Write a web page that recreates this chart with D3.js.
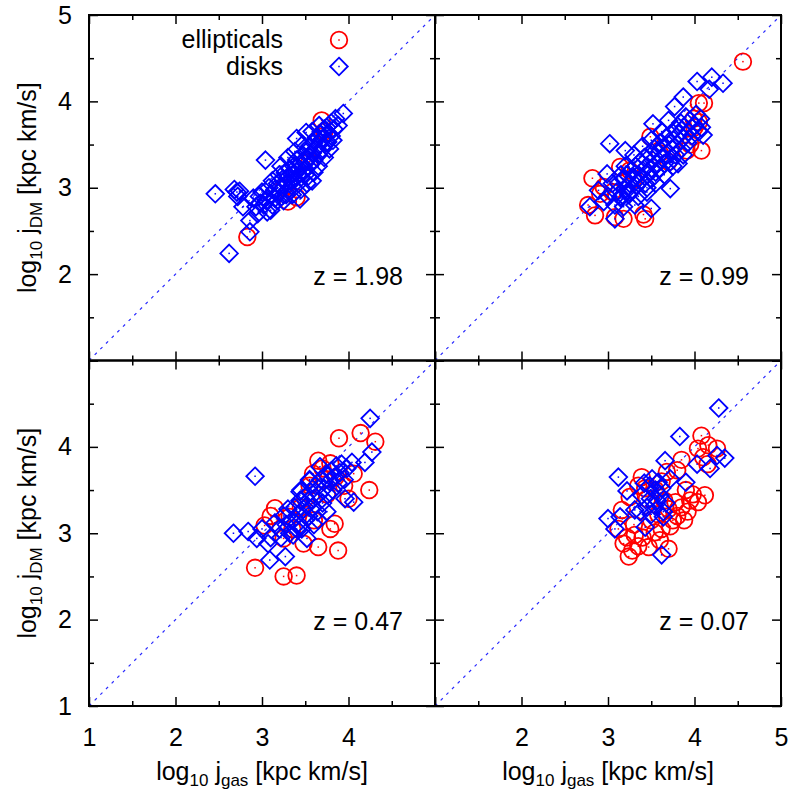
<!DOCTYPE html>
<html>
<head>
<meta charset="utf-8">
<script src="https://cdn.jsdelivr.net/npm/d3@7"></script>
<style>
  body { margin: 0; background: #fff; }
  text { font-family: "Liberation Sans", Arial, Helvetica, sans-serif; fill: #000; }
</style>
</head>
<body>
<svg id="chart" width="789" height="794"></svg>
<script>
/* Data: [log10 j_gas, log10 j_DM] */
var redshifts = ["1.98", "0.99", "0.47", "0.07"];

var ellipticalsZ198 = [
  [2.83, 2.43], [3.30, 2.84], [3.40, 2.89], [3.69, 3.78], [3.55, 3.30], [3.72, 3.65], [3.25, 3.00]
];
var disksZ198 = [
  [2.46, 2.93], [2.62, 2.24], [3.04, 3.32], [3.94, 3.86], [2.86, 2.49], [2.86, 2.62], [2.71, 2.95],
  [2.68, 2.98], [2.74, 2.96], [2.72, 2.90], [2.78, 2.78], [3.40, 3.57], [3.51, 3.64], [3.53, 3.13],
  [3.44, 2.87], [3.10, 2.74], [3.76, 3.53], [2.95, 2.70], [2.90, 2.88], [2.98, 2.82],
  [3.00, 2.95], [3.05, 2.85], [3.08, 3.00], [3.10, 2.92], [3.12, 3.08], [3.15, 2.98], [3.15, 2.88],
  [3.18, 3.05], [3.20, 3.15], [3.20, 2.95], [3.22, 3.02], [3.24, 3.10], [3.25, 2.92], [3.27, 3.18],
  [3.28, 3.05], [3.30, 3.12], [3.30, 2.98], [3.32, 3.22], [3.33, 3.08], [3.35, 3.15], [3.35, 3.02],
  [3.37, 3.25], [3.38, 3.10], [3.40, 3.18], [3.40, 3.32], [3.42, 3.05], [3.43, 3.22], [3.45, 3.28],
  [3.45, 3.12], [3.47, 3.38], [3.48, 3.20], [3.50, 3.30], [3.50, 3.15], [3.52, 3.42], [3.53, 3.25],
  [3.55, 3.35], [3.55, 3.48], [3.57, 3.28], [3.58, 3.40], [3.60, 3.52], [3.60, 3.32], [3.62, 3.45],
  [3.63, 3.58], [3.65, 3.38], [3.66, 3.50], [3.68, 3.62], [3.70, 3.45], [3.70, 3.56], [3.72, 3.68],
  [3.74, 3.52], [3.75, 3.62], [3.77, 3.72], [3.80, 3.60], [3.80, 3.75], [3.83, 3.68], [3.85, 3.80],
  [3.88, 3.72], [2.93, 2.78], [2.97, 2.90], [3.02, 2.80], [3.06, 2.72], [3.12, 2.80], [3.18, 2.85],
  [3.25, 2.85], [3.28, 2.92], [3.35, 2.92], [3.22, 3.25], [3.30, 3.35], [3.38, 3.42], [3.47, 3.50],
  [3.58, 3.65], [3.66, 3.72], [3.52, 3.05], [3.60, 3.18], [3.65, 3.25], [3.72, 3.35], [3.78, 3.45],
  [3.45, 2.98], [3.58, 3.08], [3.82, 3.55]
];

var ellipticalsZ099 = [
  [4.56, 4.46], [4.05, 3.98], [4.11, 3.98], [4.08, 3.43], [3.99, 3.80], [4.05, 3.76], [2.82, 3.11],
  [2.77, 2.80], [2.85, 2.68], [3.18, 2.64], [3.08, 2.66], [3.43, 2.64], [3.41, 2.69], [2.95, 3.01],
  [3.14, 3.24], [3.49, 3.59], [4.00, 3.70], [3.91, 3.43], [3.30, 3.10], [3.60, 3.40], [3.70, 3.30],
  [3.05, 2.95], [3.25, 3.20], [3.95, 3.50], [2.91, 2.93]
];
var disksZ099 = [
  [4.03, 4.23], [4.20, 4.28], [4.33, 4.21], [4.17, 4.14], [3.87, 4.05], [3.77, 3.94], [3.52, 3.74],
  [3.02, 3.51], [3.20, 3.43], [2.79, 2.78], [3.08, 2.64], [3.50, 2.76], [3.31, 2.80], [2.95, 2.84],
  [3.72, 2.99], [3.45, 2.95], [3.87, 3.38], [2.99, 3.16], [2.89, 2.97], [4.08, 3.70], [4.10, 3.61],
  [3.81, 3.28], [3.00, 2.90], [3.15, 2.88], [3.25, 2.95],
  [3.10, 2.95], [3.12, 3.05], [3.15, 2.90], [3.18, 3.10], [3.20, 2.98], [3.22, 3.15], [3.24, 2.92],
  [3.25, 3.05], [3.27, 3.20], [3.28, 2.98], [3.30, 3.12], [3.32, 3.25], [3.33, 3.02], [3.35, 3.15],
  [3.37, 3.30], [3.38, 3.08], [3.40, 3.20], [3.42, 3.35], [3.43, 3.05], [3.45, 3.25], [3.46, 3.15],
  [3.48, 3.40], [3.50, 3.22], [3.50, 3.10], [3.52, 3.32], [3.54, 3.45], [3.55, 3.18], [3.57, 3.28],
  [3.58, 3.40], [3.60, 3.52], [3.60, 3.22], [3.62, 3.35], [3.64, 3.46], [3.65, 3.28], [3.67, 3.58],
  [3.68, 3.38], [3.70, 3.50], [3.72, 3.30], [3.72, 3.62], [3.74, 3.45], [3.76, 3.55], [3.78, 3.68],
  [3.78, 3.38], [3.80, 3.50], [3.82, 3.62], [3.84, 3.75], [3.85, 3.45], [3.87, 3.58], [3.88, 3.70],
  [3.90, 3.82], [3.92, 3.52], [3.93, 3.65], [3.95, 3.78], [3.97, 3.60], [4.00, 3.72], [4.02, 3.85],
  [4.05, 3.65], [4.07, 3.80], [3.20, 3.25], [3.30, 3.38], [3.15, 3.15], [3.05, 3.05], [3.08, 2.80],
  [3.18, 2.78], [3.35, 2.90], [3.45, 3.00], [3.55, 3.05], [3.65, 3.15], [3.75, 3.25], [3.40, 3.48],
  [3.50, 3.55], [3.62, 3.65], [3.70, 3.78]
];

var ellipticalsZ047 = [
  [2.92, 2.60], [3.25, 2.50], [3.40, 2.51], [3.89, 4.10], [4.14, 4.16], [4.31, 4.06], [4.24, 3.50],
  [4.06, 3.69], [3.65, 3.84], [3.79, 3.81], [3.59, 3.69], [3.25, 2.94], [3.48, 2.88], [3.65, 2.84],
  [3.88, 2.80], [3.79, 3.05], [3.84, 3.11], [3.15, 3.29], [3.03, 3.09], [3.32, 3.19], [3.70, 3.75],
  [3.55, 3.55], [3.75, 3.45], [3.95, 3.55], [3.45, 3.30], [3.60, 3.15], [3.10, 3.20], [3.35, 3.05],
  [4.00, 3.40], [3.85, 3.65], [3.72, 3.62], [3.50, 3.40]
];
var disksZ047 = [
  [4.25, 4.33], [2.92, 3.66], [2.67, 3.00], [2.84, 3.02], [2.94, 2.94], [3.07, 2.88], [3.09, 2.69],
  [3.27, 2.73], [4.27, 3.94], [4.04, 3.82], [4.19, 3.82], [3.00, 3.05], [3.10, 2.95], [3.44, 3.48],
  [3.55, 3.61], [3.67, 3.77], [4.06, 3.36], [3.96, 3.40], [3.75, 3.25], [3.52, 2.94], [3.40, 3.05],
  [3.20, 3.05], [3.25, 3.20], [3.28, 3.10], [3.30, 3.28], [3.32, 3.00], [3.35, 3.15], [3.38, 3.30],
  [3.40, 3.10], [3.42, 3.22], [3.44, 3.38], [3.46, 3.05], [3.48, 3.28], [3.50, 3.15], [3.50, 3.42],
  [3.52, 3.32], [3.54, 3.20], [3.56, 3.48], [3.58, 3.30], [3.60, 3.10], [3.60, 3.40], [3.62, 3.55],
  [3.64, 3.25], [3.66, 3.45], [3.68, 3.62], [3.70, 3.35], [3.72, 3.52], [3.74, 3.68], [3.76, 3.45],
  [3.78, 3.60], [3.80, 3.72], [3.82, 3.50], [3.84, 3.65], [3.86, 3.78], [3.88, 3.58], [3.90, 3.70],
  [3.92, 3.80], [3.95, 3.62], [3.98, 3.75], [3.15, 3.12], [3.22, 2.95], [3.36, 2.98], [3.45, 3.50],
  [3.55, 3.62], [3.65, 3.15]
];

var ellipticalsZ007 = [
  [4.08, 4.13], [4.16, 4.02], [4.04, 3.98], [4.10, 3.88], [4.26, 3.98], [3.24, 2.73], [3.28, 2.80],
  [3.18, 2.88], [3.47, 2.84], [3.70, 2.82], [4.04, 3.36], [4.12, 3.44], [3.39, 3.65], [3.43, 3.52],
  [3.80, 3.73], [3.68, 3.71], [3.16, 3.27], [3.12, 3.05], [3.31, 2.98], [3.54, 3.01], [3.62, 3.05],
  [3.78, 3.36], [3.85, 3.30], [3.92, 3.25], [3.80, 3.20], [3.70, 3.28], [3.88, 3.15], [3.95, 3.38],
  [3.75, 3.15], [3.65, 3.38], [3.58, 3.22], [3.72, 3.08], [3.50, 3.15], [3.45, 3.40], [3.55, 3.50],
  [3.62, 3.60], [3.90, 3.50], [3.35, 3.55], [3.25, 3.42], [3.30, 3.10], [3.40, 2.95], [3.60, 2.92],
  [3.22, 2.95], [3.35, 2.85], [3.98, 3.45], [4.15, 3.80], [3.85, 3.85]
];
var disksZ007 = [
  [4.28, 4.45], [3.83, 4.12], [3.66, 3.84], [3.12, 3.65], [3.22, 3.49], [3.00, 3.17], [3.08, 3.05],
  [3.14, 3.19], [3.43, 3.07], [3.62, 2.75], [4.03, 3.80], [4.18, 3.75], [4.26, 3.90], [4.35, 3.87],
  [3.90, 3.59], [3.39, 3.44], [3.31, 3.27], [3.64, 3.25], [3.49, 3.40], [3.58, 3.59], [3.51, 3.63],
  [3.72, 3.63], [3.60, 3.44], [3.54, 3.32], [3.64, 3.19], [3.37, 3.25], [3.45, 3.30], [3.55, 3.50],
  [3.48, 3.55], [3.62, 3.52], [3.50, 3.22], [3.57, 3.38], [3.42, 3.58], [3.67, 3.35]
];

var xTicksLeft = [1, 2, 3, 4];
var xTicksRight = [2, 3, 4, 5];
var yTicksTop = [5, 4, 3, 2];
var yTicksBottom = [4, 3, 2, 1];
var majorTicks = [1, 2, 3, 4, 5];
var minorTicks = [1.5, 2.5, 3.5, 4.5];

/* Layout */
var frameLeft = 89, frameRight = 781, frameTop = 15, frameBottom = 706;
var pw = (frameRight - frameLeft) / 2;
var ph = (frameBottom - frameTop) / 2;
var markerR = 8.3;
var red = "#ff0000", blue = "#0000ff";

var panels = [
  { col: 0, row: 0, z: redshifts[0], ell: ellipticalsZ198, disk: disksZ198 },
  { col: 1, row: 0, z: redshifts[1], ell: ellipticalsZ099, disk: disksZ099 },
  { col: 0, row: 1, z: redshifts[2], ell: ellipticalsZ047, disk: disksZ047 },
  { col: 1, row: 1, z: redshifts[3], ell: ellipticalsZ007, disk: disksZ007 }
];

var xScale = d3.scaleLinear().domain([1, 5]).range([0, pw]);
var yScale = d3.scaleLinear().domain([1, 5]).range([ph, 0]);

var svg = d3.select("#chart");

function circleMarker(sel, color) {
  sel.append("circle").attr("r", markerR)
    .attr("fill", "none").attr("stroke", color).attr("stroke-width", 1.8);
  sel.append("rect").attr("x", -0.75).attr("y", -0.75).attr("width", 1.5).attr("height", 1.5)
    .attr("fill", color);
}
function diamondMarker(sel, color) {
  var s = markerR + 0.5;
  sel.append("path").attr("d", `M0,${-s}L${s},0L0,${s}L${-s},0Z`)
    .attr("fill", "none").attr("stroke", color).attr("stroke-width", 1.8);
  sel.append("rect").attr("x", -0.75).attr("y", -0.75).attr("width", 1.5).attr("height", 1.5)
    .attr("fill", color);
}

function tickAxis(axisFn, scale, vals, size) {
  return axisFn(scale).tickValues(vals).tickSize(size).tickFormat("");
}

panels.forEach(function (p) {
  var g = svg.append("g")
    .attr("transform", `translate(${frameLeft + p.col * pw},${frameTop + p.row * ph})`);

  /* one-to-one line */
  g.append("line")
    .attr("x1", xScale(1)).attr("y1", yScale(1))
    .attr("x2", xScale(5)).attr("y2", yScale(5))
    .attr("stroke", "#2a2aff").attr("stroke-width", 1.2)
    .attr("stroke-dasharray", "3,5");

  /* ellipticals then disks */
  g.append("g").selectAll("g")
    .data(p.ell).enter()
    .append("g")
    .attr("transform", d => `translate(${xScale(d[0])},${yScale(d[1])})`)
    .call(circleMarker, red);

  g.append("g").selectAll("g")
    .data(p.disk).enter()
    .append("g")
    .attr("transform", d => `translate(${xScale(d[0])},${yScale(d[1])})`)
    .call(diamondMarker, blue);

  /* inward ticks on all four sides */
  var ticks = g.append("g").attr("class", "ticks");
  [[majorTicks, 9], [minorTicks, 5]].forEach(function (t) {
    ticks.append("g").attr("transform", `translate(0,${ph})`).call(tickAxis(d3.axisTop, xScale, t[0], t[1]));
    ticks.append("g").call(tickAxis(d3.axisBottom, xScale, t[0], t[1]));
    ticks.append("g").call(tickAxis(d3.axisRight, yScale, t[0], t[1]));
    ticks.append("g").attr("transform", `translate(${pw},0)`).call(tickAxis(d3.axisLeft, yScale, t[0], t[1]));
  });
  ticks.selectAll(".domain").remove();
  ticks.selectAll("line").attr("stroke", "#000").attr("stroke-width", 1.5);

  g.append("rect")
    .attr("width", pw).attr("height", ph)
    .attr("fill", "none").attr("stroke", "#000").attr("stroke-width", 2);

  /* redshift label */
  g.append("text")
    .attr("x", pw - 32).attr("y", ph - 76)
    .attr("text-anchor", "end")
    .style("font-size", "25px")
    .text("z = " + p.z);

  /* tick labels */
  if (p.row === 1) {
    var xa = g.append("g").attr("transform", `translate(0,${ph})`)
      .call(d3.axisBottom(xScale).tickValues(p.col === 0 ? xTicksLeft : xTicksRight)
        .tickSize(0).tickPadding(22).tickFormat(d3.format("d")));
    xa.select(".domain").remove();
    xa.selectAll("text").style("font-size", "25px").attr("fill", "#000")
      .style("font-family", "'Liberation Sans', Arial, sans-serif");
  }
  if (p.col === 0) {
    var ya = g.append("g")
      .call(d3.axisLeft(yScale).tickValues(p.row === 0 ? yTicksTop : yTicksBottom)
        .tickSize(0).tickPadding(17).tickFormat(d3.format("d")));
    ya.select(".domain").remove();
    ya.selectAll("text").style("font-size", "25px").attr("fill", "#000")
      .style("font-family", "'Liberation Sans', Arial, sans-serif");
  }
});

/* axis titles */
function subLabel(t, sub) {
  t.append("tspan").text("log");
  t.append("tspan").text("10").style("font-size", "17px").attr("dy", 6);
  t.append("tspan").text(" j").attr("dy", -6);
  t.append("tspan").text(sub).style("font-size", "17px").attr("dy", 6);
  t.append("tspan").text(" [kpc km/s]").attr("dy", -6);
}

[0, 1].forEach(function (c) {
  var t = svg.append("text")
    .attr("x", frameLeft + c * pw + pw / 2).attr("y", 780)
    .attr("text-anchor", "middle")
    .style("font-size", "25px");
  subLabel(t, "gas");
});

[0, 1].forEach(function (r) {
  var t = svg.append("text")
    .attr("transform", `translate(36,${frameTop + r * ph + ph / 2}) rotate(-90)`)
    .attr("text-anchor", "middle")
    .style("font-size", "25px");
  subLabel(t, "DM");
});

/* legend */
var legend = svg.append("g");
var legendItems = [["ellipticals", circleMarker, red], ["disks", diamondMarker, blue]];
legendItems.forEach(function (it, i) {
  var y = 40 + i * 26.5;
  legend.append("text")
    .attr("x", 283).attr("y", y + 8)
    .attr("text-anchor", "end")
    .style("font-size", "25px")
    .text(it[0]);
  legend.append("g").attr("transform", `translate(339,${y})`).call(it[1], it[2]);
});
</script>
</body>
</html>
